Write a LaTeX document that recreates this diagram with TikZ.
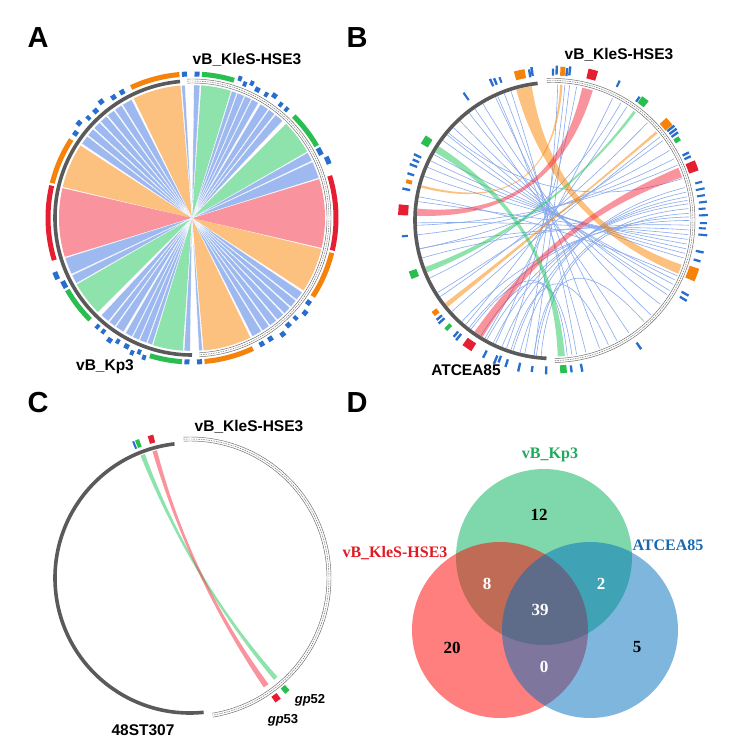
\documentclass[tikz,border=0pt]{standalone}
\usepackage{fontspec}
\setmainfont{Liberation Serif}
\setsansfont{Liberation Sans}
\usepackage{tikz}
\definecolor{ribred}{RGB}{245,40,60}
\definecolor{ribora}{RGB}{250,130,0}
\definecolor{ribgrn}{RGB}{30,200,90}
\definecolor{ribblu}{RGB}{40,100,220}
\definecolor{genered}{RGB}{230,30,50}
\definecolor{geneora}{RGB}{245,130,10}
\definecolor{genegrn}{RGB}{40,190,80}
\definecolor{geneblu}{RGB}{40,110,205}
\definecolor{ideodark}{RGB}{90,90,90}
\definecolor{venngrn}{RGB}{0,178,90}
\definecolor{vennred}{RGB}{255,0,0}
\definecolor{vennblu}{RGB}{0,110,190}
\definecolor{labgrn}{RGB}{30,170,90}
\definecolor{labred}{RGB}{225,25,35}
\definecolor{labblu}{RGB}{25,105,175}

\tikzset{
  paneltag/.style={font=\sffamily\bfseries\fontsize{29}{29}\selectfont},
  genomelabel/.style={font=\sffamily\bfseries\fontsize{15.5}{16}\selectfont},
  genelabel/.style={font=\sffamily\bfseries\fontsize{13}{14}\selectfont},
  darkideo/.style={draw=ideodark, line width=3.6pt},
  hollowideo/.style={draw=black!60, line width=0.45pt},
  bluelink/.style={draw=ribblu!55, line width=0.6pt},
  vennset/.style={circle, inner sep=0pt, minimum size=176pt, fill opacity=0.5},
  vennlabel/.style={font=\bfseries\fontsize{16}{16}\selectfont},
  venncount/.style={font=\bfseries\fontsize{17}{17}\selectfont},
}

% annular box of a gene: angle, width, inner radius, outer radius, colour
\newcommand{\genebox}[5]{%
  \fill[fill=#5] (#1-#2/2:#3) arc[start angle=#1-#2/2, end angle=#1+#2/2, radius=#3pt]
    -- (#1+#2/2:#4) arc[start angle=#1+#2/2, end angle=#1-#2/2, radius=#4pt] -- cycle;}
% ribbon between two arcs: a1, a2, b1, b2, colour
\newcommand{\ribbon}[5]{%
  \fill[fill=#5, fill opacity=0.5] (#1:\rl) arc[start angle=#1, end angle=#2, radius=\rl pt]
    .. controls (#2:\rc) and (#3:\rc) .. (#3:\rl) arc[start angle=#3, end angle=#4, radius=\rl pt]
    .. controls (#4:\rc) and (#1:\rc) .. cycle;}

\begin{document}
\begin{tikzpicture}[x=1pt, y=1pt]
    \useasboundingbox (0,0) rectangle (736,756);
    \fill[white] (0,0) rectangle (736,756);

    % Panel A: vB_KleS-HSE3 against vB_Kp3
    \coordinate (cA) at (192,538);
    \begin{scope}[shift={(cA)}]
        \def\rl{133}
        % links of a collinear pair go straight through the centre
        \foreach \a/\b/\c in {73/86/ribgrn, 30/45/ribgrn, -13/17/ribred, -33/-13.5/ribora, -85/-64/ribora}{
            \fill[fill=\c, fill opacity=0.5] (\a:\rl) arc[start angle=\a, end angle=\b, radius=\rl pt]
                -- (\b+180:\rl) arc[start angle=\b+180, end angle=\a+180, radius=\rl pt] -- cycle;
        }
        \foreach \a/\b in {86.6/89.2, 70.3/72.6, 66.8/70, 63.5/66.5, 60/63.2, 55/59, 51.5/54.6, 47/51,
                           25.5/29.5, 17.5/25, -38/-34, -42/-38.5, -46/-42.5, -50/-46.5, -54/-50.5,
                           -58/-54.5, -63/-58.5, -87/-85.5}{
            \filldraw[fill=ribblu, fill opacity=0.45, draw=white, line width=0.3pt]
                (\a:\rl) arc[start angle=\a, end angle=\b, radius=\rl pt]
                -- (\b+180:\rl) arc[start angle=\b+180, end angle=\a+180, radius=\rl pt] -- cycle;
        }
        % ideograms
        \draw[darkideo] (95:137) arc[start angle=95, end angle=270, radius=137pt];
        \draw[hollowideo] (92:135) arc[start angle=92, end angle=-87, radius=135pt];
        \draw[hollowideo] (92:139) arc[start angle=92, end angle=-87, radius=139pt];
        \draw[hollowideo, dash pattern=on 1.5pt off 1pt] (92:137) arc[start angle=92, end angle=-87, radius=137pt];
        % genes, mirrored on the second genome
        \foreach \a/\w/\r/\R/\c in {88/2/141.5/146.5/geneblu, 79.5/13/141.5/146.5/genegrn,
                71/1.5/145/150/geneblu, 68.5/1.5/141.5/146.5/geneblu, 66/1.5/145/150/geneblu,
                63/2/141.5/146.5/geneblu, 59/1.5/141.5/146.5/geneblu, 56/2/145/150/geneblu,
                52/1.5/141.5/146.5/geneblu, 49/1.5/141.5/146.5/geneblu, 37.5/15/141.5/146.5/genegrn,
                27.5/3/141.5/146.5/geneblu, 23/3/145/150/geneblu, 2/30/141.5/146.5/genered,
                -23.5/19/141.5/146.5/geneora, -36/2/141.5/146.5/geneblu, -40/2/145/150/geneblu,
                -44/1.5/141.5/146.5/geneblu, -48/2/141.5/146.5/geneblu, -52/2/145/150/geneblu,
                -57/2/141.5/146.5/geneblu, -61/2/141.5/146.5/geneblu, -75/20/141.5/146.5/geneora,
                -87/2/141.5/146.5/geneblu}{
            \genebox{\a}{\w}{\r}{\R}{\c}
            \genebox{\a+180}{\w}{\r}{\R}{\c}
        }
    \end{scope}
    \node[paneltag] (tagA) at (38,718) {A};
    \node[genomelabel] (hseA) at (247,696) {vB\_KleS-HSE3};
    \node[genomelabel] (kpA) at (105,389) {vB\_Kp3};

    % Panel B: vB_KleS-HSE3 against ATCEA85
    \coordinate (cB) at (553,535.5);
    \begin{scope}[shift={(cB)}]
        \def\rl{136}
        \def\rc{45.3}
        % single-gene links
        \foreach \p/\q in {88/258, 85/250, 83/262, 80/245, 64/240, 57/230, 46/214, 38/222, 36/212,
                           31/192, 27/186, 24/182, 14/256, 12/253, 10/248, 8.5/244, 7/241, 5/263,
                           3/265, 1.5/232, 0/228, -2/196, -4/192, -6/181, -8/172, -10/161, -12/157,
                           -14/154, -16/151, -26/144, -28/141, -31/137, -33/133, -38/128, -44/121,
                           -56/125, -62/115, -70/111, -76/114, -80/108, -84/238, -82/233, -66/252,
                           -48/262, -24/170, 18/140, 60/205}{
            \draw[bluelink] (\p:\rl) .. controls (\p:\rc) and (\q:\rc) .. (\q:\rl);
        }
        % broad links
        \ribbon{99}{105.7}{-23}{-19}{ribora}
        \ribbon{73}{77.6}{175}{178}{ribred}
        \ribbon{52.5}{53.7}{200}{202.4}{ribgrn}
        \ribbon{39.8}{40.9}{217.4}{219.4}{ribora}
        \ribbon{18.5}{22.8}{234.8}{238.9}{ribred}
        \ribbon{147}{150}{272}{275}{ribgrn}
        \ribbon{86}{87}{165}{166}{ribora}
        % ideograms
        \draw[darkideo] (96.4:138) arc[start angle=96.4, end angle=267.3, radius=138pt];
        \draw[hollowideo] (92.5:138) arc[start angle=92.5, end angle=-89.2, radius=138pt];
        \draw[hollowideo] (92.5:142) arc[start angle=92.5, end angle=-89.2, radius=142pt];
        \draw[hollowideo, dash pattern=on 1.5pt off 1pt] (92.5:140) arc[start angle=92.5, end angle=-89.2, radius=140pt];
        % genes
        \foreach \a/\w/\r/\R/\c in {90/0.9/145/152/geneblu, 88.6/0.9/146/155/geneblu, 86.3/1.8/145/154/geneora,
                84.7/0.9/145/153/geneblu, 83.6/0.9/146/155/geneblu, 75/3.6/146/156/genered,
                64.5/0.8/148/155/geneblu, 55/0.9/145/151/geneblu, 52.8/3/145/153/genegrn,
                40.4/3.5/144/153/geneora, 38/0.9/145/154/geneblu, 36.6/0.9/145/154/geneblu,
                35.2/0.9/145/153/geneblu, 33/1.8/145/151/genegrn, 26.6/0.9/145/152/geneblu,
                25/0.9/145/152/geneblu, 21/4/144/154/genered, 14.6/0.8/147/154/geneblu,
                12/0.8/146/155/geneblu, 9.5/0.8/146/154/geneblu, 7/0.8/147/155/geneblu,
                4.5/0.8/146/153/geneblu, 2/0.8/146/155/geneblu, -1/0.8/147/154/geneblu,
                -3/0.8/146/153/geneblu, -5.5/0.8/146/155/geneblu, -12/0.9/146/154/geneblu,
                -15.5/0.9/146/153/geneblu, -20.8/5/144/154/geneora, -29/0.9/147/155/geneblu,
                -31/0.9/148/156/geneblu, -55.6/0.9/148/156/geneblu, -79/0.9/146/154/geneblu,
                -83/0.9/146/153/geneblu, -86/2.5/145/153/genegrn,
                267.4/0.9/146/154/geneblu, 262/0.9/147/153/geneblu, 257/0.9/146/155/geneblu,
                252/0.9/146/154/geneblu, 249/0.9/145/152/geneblu, 247.6/0.9/146/155/geneblu,
                243/0.9/146/154/geneblu, 236/4/145/154/genered, 231/0.9/146/154/geneblu,
                229.5/0.9/146/153/geneblu, 225.5/1.5/146/153/genegrn, 222/0.9/146/154/geneblu,
                220.5/0.9/146/153/geneblu, 218/2/146/152/geneora, 201/3/145/153/genegrn,
                186/0.8/146/152/geneblu, 176/4/145/155/genered, 168/0.9/146/154/geneblu,
                165/1.5/146/152/geneora, 162/0.9/146/153/geneblu, 158.5/0.9/146/154/geneblu,
                156.5/0.9/146/153/geneblu, 154.5/0.9/146/154/geneblu, 148/3.5/145/153/genegrn,
                125/0.8/147/156/geneblu, 114/0.9/147/155/geneblu, 112.5/0.9/147/154/geneblu,
                110.5/0.8/147/153/geneblu, 102.7/4/145/154/geneora, 99/0.9/145/153/geneblu,
                98/0.9/146/155/geneblu}{
            \genebox{\a}{\w}{\r}{\R}{\c}
        }
    \end{scope}
    \node[paneltag] (tagB) at (357,718) {B};
    \node[genomelabel] (hseB) at (619,701) {vB\_KleS-HSE3};
    \node[genomelabel] (atB) at (466,386) {ATCEA85};

    % Panel C: vB_KleS-HSE3 against 48ST307
    \coordinate (cC) at (190,178);
    \begin{scope}[shift={(cC)}]
        \def\rl{132}
        \def\rc{44}
        \ribbon{110}{112}{-50.5}{-48.5}{ribgrn}
        \ribbon{104.5}{106.5}{-56}{-53.5}{ribred}
        % ideograms
        \draw[darkideo] (96.6:135) arc[start angle=96.6, end angle=275.8, radius=135pt];
        \draw[hollowideo] (92.7:137) arc[start angle=92.7, end angle=-80.7, radius=137pt];
        \draw[hollowideo] (92.7:141) arc[start angle=92.7, end angle=-80.7, radius=141pt];
        \draw[hollowideo, dash pattern=on 1.5pt off 1pt] (92.7:139) arc[start angle=92.7, end angle=-80.7, radius=139pt];
        % genes gp52 and gp53
        \foreach \a/\w/\r/\R/\c in {112.6/0.8/140/148/geneblu, 111/1.6/140/148/genegrn,
                105.5/2.2/140/148/genered, -49.5/2.2/143/150/genegrn, -54.3/2.5/144/151/genered}{
            \genebox{\a}{\w}{\r}{\R}{\c}
        }
    \end{scope}
    \node[paneltag] (tagC) at (38,353) {C};
    \node[genomelabel] (hseC) at (249,329) {vB\_KleS-HSE3};
    \node[genomelabel] (stC) at (143,26) {48ST307};
    \node[genelabel] (gp52) at (310,56) {\textit{gp}52};
    \node[genelabel] (gp53) at (283,36) {\textit{gp}53};

    % Panel D: shared genes
    \node[paneltag] (tagD) at (357,353) {D};
    \node[vennset, fill=venngrn] (setKp) at (544,199) {};
    \node[vennset, fill=vennred] (setKl) at (500,126) {};
    \node[vennset, fill=vennblu] (setAt) at (590,126) {};
    \node[vennlabel, text=labgrn] (labKp) at (550,301) {vB\_Kp3};
    \node[vennlabel, text=labred] (labKl) at (395,203) {vB\_KleS-HSE3};
    \node[vennlabel, text=labblu] (labAt) at (668,211) {ATCEA85};
    \node[venncount] (nKp) at (539,241) {12};
    \node[venncount] (nKl) at (452,108) {20};
    \node[venncount] (nAt) at (637,109) {5};
    \node[venncount, text=white] (nKpKl) at (487,172) {8};
    \node[venncount, text=white] (nKpAt) at (601,172) {2};
    \node[venncount, text=white] (nAll) at (540,146) {39};
    \node[venncount, text=white] (nKlAt) at (544,89) {0};
\end{tikzpicture}
\end{document}
